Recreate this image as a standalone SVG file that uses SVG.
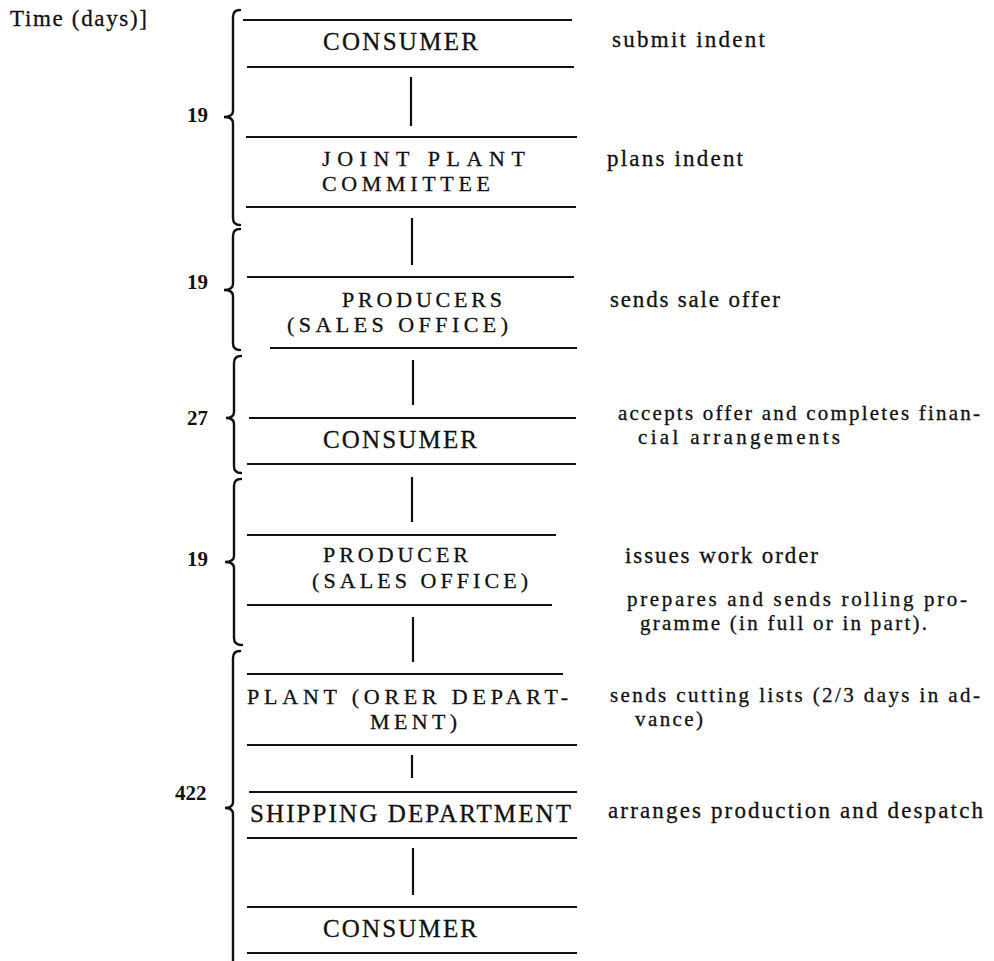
<svg xmlns="http://www.w3.org/2000/svg" width="994" height="961" viewBox="0 0 994 961">
<style>
.rule{stroke:#111;stroke-width:2.2;fill:none}
.conn{stroke:#111;stroke-width:2.2;fill:none}
.brace{stroke:#111;stroke-width:2.4;fill:none;stroke-linecap:round}
.box{font-family:"Liberation Serif","Times New Roman",serif;font-size:25px;fill:#111;stroke:#111;stroke-width:0.3}
.box2{font-family:"Liberation Serif","Times New Roman",serif;font-size:22px;fill:#111;stroke:#111;stroke-width:0.3}
.lab{font-family:"Liberation Serif","Times New Roman",serif;font-size:23px;fill:#111;stroke:#111;stroke-width:0.3}
.lab2{font-family:"Liberation Serif","Times New Roman",serif;font-size:21px;fill:#111;stroke:#111;stroke-width:0.3}
.num{font-family:"Liberation Serif","Times New Roman",serif;font-size:21px;fill:#111;font-weight:bold}
</style>
<rect width="994" height="961" fill="#fff"/>
<text class="box" x="10" y="26" textLength="137" lengthAdjust="spacing" style="font-size:23px">Time (days)]</text>

<g id="node-consumer-1">
<line class="rule" x1="243" y1="20" x2="572" y2="20"/>
<line class="rule" x1="247" y1="67" x2="574" y2="67"/>
<text class="box" x="323" y="50" textLength="155" lengthAdjust="spacing">CONSUMER</text>
</g>
<g id="node-joint-plant-committee">
<line class="rule" x1="246" y1="137" x2="577" y2="137"/>
<line class="rule" x1="246" y1="207" x2="576" y2="207"/>
<text class="box2" x="322" y="166" textLength="203" lengthAdjust="spacing">JOINT PLANT</text>
<text class="box2" x="322" y="191" textLength="168" lengthAdjust="spacing">COMMITTEE</text>
</g>
<g id="node-producers-sales-office">
<line class="rule" x1="247" y1="277" x2="574" y2="277"/>
<line class="rule" x1="270" y1="348" x2="577" y2="348"/>
<text class="box2" x="342" y="307" textLength="160" lengthAdjust="spacing">PRODUCERS</text>
<text class="box2" x="287" y="332" textLength="221" lengthAdjust="spacing">(SALES OFFICE)</text>
</g>
<g id="node-consumer-2">
<line class="rule" x1="249" y1="418" x2="576" y2="418"/>
<line class="rule" x1="247" y1="464" x2="576" y2="464"/>
<text class="box" x="323" y="448" textLength="154" lengthAdjust="spacing">CONSUMER</text>
</g>
<g id="node-producer-sales-office">
<line class="rule" x1="247" y1="535" x2="556" y2="535"/>
<line class="rule" x1="247" y1="605" x2="552" y2="605"/>
<text class="box2" x="323" y="562" textLength="145" lengthAdjust="spacing">PRODUCER</text>
<text class="box2" x="312" y="588" textLength="216" lengthAdjust="spacing">(SALES OFFICE)</text>
</g>
<g id="node-plant-order-department">
<line class="rule" x1="247" y1="674" x2="563" y2="674"/>
<line class="rule" x1="247" y1="745" x2="577" y2="745"/>
<text class="box2" x="247" y="704" textLength="321" lengthAdjust="spacing">PLANT (ORER DEPART-</text>
<text class="box2" x="370" y="729" textLength="87" lengthAdjust="spacing">MENT)</text>
</g>
<g id="node-shipping-department">
<line class="rule" x1="249" y1="792" x2="577" y2="792"/>
<line class="rule" x1="247" y1="838" x2="577" y2="838"/>
<text class="box" x="250" y="822" textLength="321" lengthAdjust="spacing">SHIPPING DEPARTMENT</text>
</g>
<g id="node-consumer-3">
<line class="rule" x1="247" y1="907" x2="577" y2="907"/>
<line class="rule" x1="247" y1="953" x2="577" y2="953"/>
<text class="box" x="323" y="937" textLength="154" lengthAdjust="spacing">CONSUMER</text>
</g>

<g id="connectors">
<line class="conn" x1="411" y1="77" x2="411" y2="126"/>
<line class="conn" x1="412" y1="218" x2="412" y2="265"/>
<line class="conn" x1="413" y1="360" x2="413" y2="405"/>
<line class="conn" x1="412" y1="477" x2="412" y2="522"/>
<line class="conn" x1="413" y1="617" x2="413" y2="662"/>
<line class="conn" x1="412" y1="755" x2="412" y2="778"/>
<line class="conn" x1="413" y1="848" x2="413" y2="895"/>
</g>

<g id="time-braces">
<path class="brace" d="M240 10 Q233 10 233 17 L233 111 Q233 117 224 117 Q233 117 233 123 L233 218 Q233 225 240 225"/>
<path class="brace" d="M240 229 Q233 229 233 236 L233 284 Q233 290 224 290 Q233 290 233 296 L233 343 Q233 350 240 350"/>
<path class="brace" d="M241 356 Q234 356 234 363 L234 412 Q234 418 226 418 Q234 418 234 424 L234 466 Q234 473 241 473"/>
<path class="brace" d="M241 479 Q234 479 234 486 L234 556 Q234 562 225 562 Q234 562 234 568 L234 638 Q234 645 242 645"/>
<path class="brace" d="M240 651 Q233 651 233 658 L233 802 Q233 808 225 808 Q233 808 233 814 L233 961"/>
<text class="num" x="187" y="122">19</text>
<text class="num" x="187" y="289">19</text>
<text class="num" x="187" y="425">27</text>
<text class="num" x="187" y="566">19</text>
<text class="num" x="175" y="800">422</text>
</g>

<g id="actions">
<text class="lab" x="612" y="47" textLength="153" lengthAdjust="spacing">submit indent</text>
<text class="lab" x="607" y="166" textLength="136" lengthAdjust="spacing">plans indent</text>
<text class="lab" x="610" y="307" textLength="170" lengthAdjust="spacing">sends sale offer</text>
<text class="lab2" x="618" y="420" textLength="362" lengthAdjust="spacing">accepts offer and completes finan-</text>
<text class="lab2" x="638" y="444" textLength="202" lengthAdjust="spacing">cial arrangements</text>
<text class="lab" x="625" y="563" textLength="193" lengthAdjust="spacing">issues work order</text>
<text class="lab2" x="627" y="606" textLength="340" lengthAdjust="spacing">prepares and sends rolling pro-</text>
<text class="lab2" x="640" y="630" textLength="287" lengthAdjust="spacing">gramme (in full or in part).</text>
<text class="lab2" x="610" y="702" textLength="370" lengthAdjust="spacing">sends cutting lists (2/3 days in ad-</text>
<text class="lab2" x="635" y="726" textLength="68" lengthAdjust="spacing">vance)</text>
<text class="lab" x="608" y="818" textLength="375" lengthAdjust="spacing">arranges production and despatch</text>
</g>
</svg>
